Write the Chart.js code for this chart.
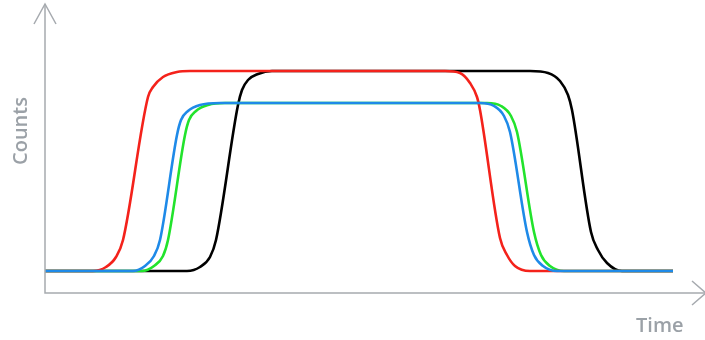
<!DOCTYPE html>
<html>
<head>
<meta charset="utf-8">
<script src="https://cdn.jsdelivr.net/npm/chart.js@4/dist/chart.umd.min.js"></script>
<style>
  html, body { margin: 0; padding: 0; background: #fff; }
  #wrap { width: 705px; height: 340px; }
</style>
</head>
<body>
<div id="wrap"><canvas id="myChart"></canvas></div>
<script>
// time / count values
const redTime   = [0, 48, 61, 71, 78, 103, 108, 118, 132, 145, 400, 415, 425, 432, 435, 455, 462, 470, 485, 628];
const redCounts = [22, 22, 26, 36, 53, 196, 206, 216, 221, 222, 222, 220, 210, 196, 183, 55, 38, 27, 22, 22];

const blackTime   = [0, 142, 155, 165, 171, 193, 197, 203, 213, 227, 485, 503, 515, 523, 527, 546, 553, 562, 577, 628];
const blackCounts = [22, 22, 26, 36, 53, 188, 203, 213, 219, 222, 222, 220, 212, 198, 183, 61, 43, 30, 22, 22];

const greenTime   = [0, 97, 109, 118, 123, 140, 144, 151, 163, 180, 442, 456, 466, 472, 489, 496, 505, 519, 628];
const greenCounts = [22, 22, 27, 37, 53, 158, 173, 182, 188, 190, 190, 187, 177, 161, 61, 38, 27, 22, 22];

const blueTime   = [0, 88, 100, 109, 115, 132, 136, 143, 155, 175, 435, 449, 459, 465, 482, 489, 498, 512, 628];
const blueCounts = [22, 22, 27, 37, 53, 158, 173, 182, 188, 190, 190, 187, 177, 161, 61, 38, 27, 22, 22];

const xLabel = 'Time';
const yLabel = 'Counts';

function points(t, c) {
  return t.map((x, i) => ({ x: x, y: c[i] }));
}

function line(label, t, c, color) {
  return {
    label: label,
    data: points(t, c),
    borderColor: color,
    borderWidth: 2.6,
    pointRadius: 0,
    fill: false,
    cubicInterpolationMode: 'monotone'
  };
}

// draws the two arrowed axes and their titles
const axesPlugin = {
  id: 'axes',
  afterDraw(chart) {
    const ctx = chart.ctx;
    const a = chart.chartArea;
    ctx.save();
    ctx.strokeStyle = '#a6aaaf';
    ctx.lineWidth = 1.5;
    ctx.beginPath();
    ctx.moveTo(a.left, a.top);
    ctx.lineTo(a.left, a.bottom);
    ctx.lineTo(a.right, a.bottom);
    ctx.stroke();
    // y arrow
    ctx.beginPath();
    ctx.moveTo(a.left - 11, a.top + 20);
    ctx.lineTo(a.left, a.top);
    ctx.lineTo(a.left + 11, a.top + 20);
    ctx.stroke();
    // x arrow
    ctx.beginPath();
    ctx.moveTo(a.right - 13, a.bottom - 12);
    ctx.lineTo(a.right + 1, a.bottom);
    ctx.lineTo(a.right - 13, a.bottom + 12);
    ctx.stroke();

    ctx.fillStyle = '#9ba1a7';
    ctx.font = '600 20px "Open Sans"';
    ctx.textBaseline = 'alphabetic';
    ctx.textAlign = 'left';
    ctx.fillText(xLabel, 636, 332);

    ctx.translate(27, 131);
    ctx.rotate(-Math.PI / 2);
    ctx.textAlign = 'center';
    ctx.fillText(yLabel, 0, 0);
    ctx.restore();
  }
};

const ctx = document.getElementById('myChart').getContext('2d');

const myChart = new Chart(ctx, {
  type: 'line',
  data: {
    datasets: [
      line('blue', blueTime, blueCounts, '#1e8ae8'),
      line('red', redTime, redCounts, '#f4221b'),
      line('green', greenTime, greenCounts, '#22e32c'),
      line('black', blackTime, blackCounts, '#000000')
    ]
  },
  options: {
    responsive: true,
    maintainAspectRatio: false,
    animation: false,
    layout: { padding: { left: 45, right: 0, top: 4, bottom: 47 } },
    plugins: { legend: { display: false }, tooltip: { enabled: false } },
    scales: {
      x: { type: 'linear', min: 0, max: 660, display: false },
      y: { min: 0, max: 289, display: false }
    }
  },
  plugins: [axesPlugin]
});
</script>
</body>
</html>
